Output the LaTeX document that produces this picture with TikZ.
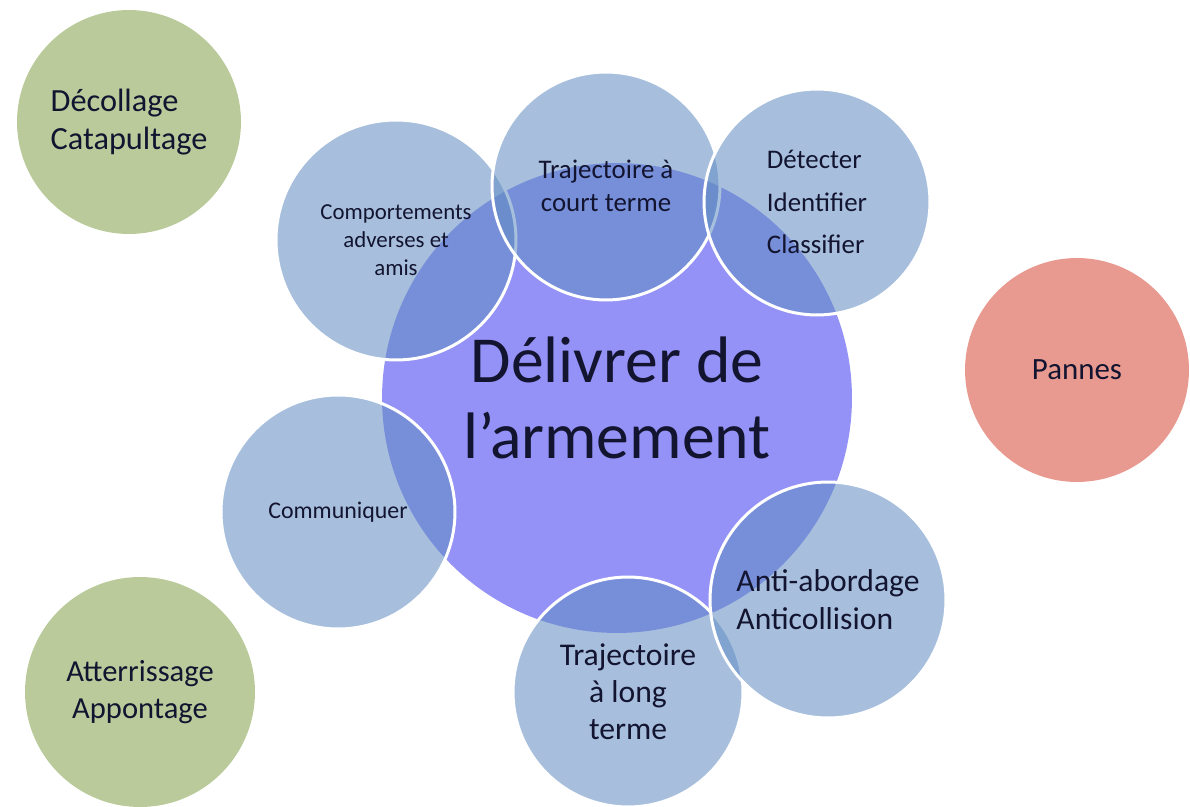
\documentclass[tikz,border=0pt]{standalone}
\usepackage{fontspec}
\setmainfont{Carlito}
\definecolor{inktext}{RGB}{18,20,48}
\definecolor{phasegreen}{RGB}{186,202,154}
\definecolor{faultred}{RGB}{233,154,144}
\definecolor{corepurple}{RGB}{148,146,246}
\definecolor{taskblue}{RGB}{98,141,195}

\begin{document}
\begin{tikzpicture}[x=0.02cm,y=-0.02cm,
  disc/.style={circle,inner sep=0pt,align=center,text=inktext},
  bubble/.style={disc,fill=taskblue,fill opacity=0.56,text opacity=1,draw=white,line width=1.7pt}]
  \useasboundingbox (0,0) rectangle (1190,807);

  %flight phases
  \node[disc,fill=phasegreen,minimum size=4.48cm,align=left,font=\fontsize{18.4pt}{21.5pt}\selectfont] (takeoff) at (129,122) {Décollage\\Catapultage};
  \node[disc,fill=phasegreen,minimum size=4.6cm,font=\fontsize{17.4pt}{21pt}\selectfont] (landing) at (140,692) {Atterrissage\\Appontage};

  %failures
  \node[disc,fill=faultred,minimum size=4.48cm,font=\fontsize{17.6pt}{21pt}\selectfont] (faults) at (1077,370) {Pannes};

  %central task
  \node[disc,fill=corepurple,minimum size=9.4cm,font=\fontsize{37.4pt}{43.6pt}\selectfont] (core) at (617,398) {Délivrer de\\l’armement};

  %surrounding tasks
  \node[bubble,minimum size=4.8cm,font=\fontsize{13pt}{16pt}\selectfont] (behave) at (396,240) {Comportements\\adverses et\\amis};
  \node[bubble,minimum size=4.56cm,font=\fontsize{15.3pt}{18.7pt}\selectfont] (shortpath) at (606,186) {Trajectoire à\\court terme};
  \node[bubble,minimum size=4.52cm,align=left,font=\fontsize{15.3pt}{24.4pt}\selectfont] (detect) at (817,202) {Détecter\\Identifier\\Classifier};
  \node[bubble,minimum size=4.68cm,font=\fontsize{13.6pt}{16pt}\selectfont] (comms) at (338,512) {Communiquer};
  \node[bubble,minimum size=4.6cm,font=\fontsize{18pt}{21pt}\selectfont] (longpath) at (628,692) {Trajectoire\\à long\\terme};
  \node[bubble,minimum size=4.72cm,align=left,font=\fontsize{18pt}{21.5pt}\selectfont] (avoid) at (828,600) {Anti-abordage\\Anticollision};
\end{tikzpicture}
\end{document}
